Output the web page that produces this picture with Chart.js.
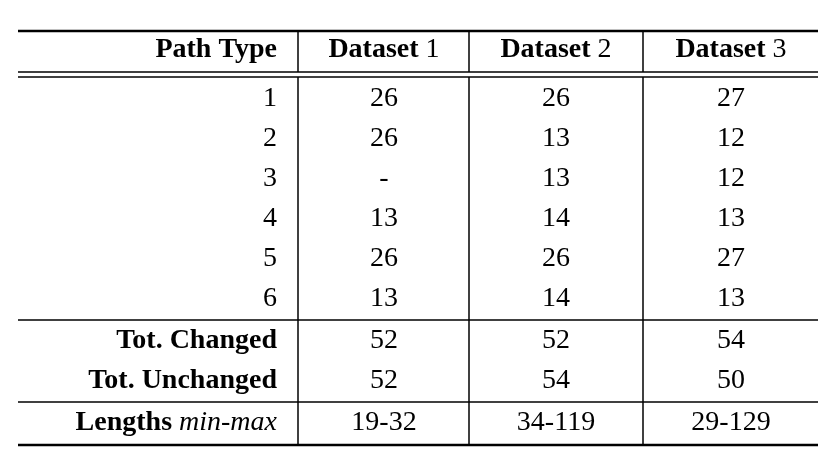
<!DOCTYPE html>
<html><head><meta charset="utf-8">
<script src="https://cdn.jsdelivr.net/npm/chart.js@4"></script>
<style>html,body{margin:0;padding:0;background:#fff}#w{width:838px;height:466px}</style>
</head><body><div id="w"><canvas id="c"></canvas></div>
<script>
const headers = [["Path Type"], ["Dataset ", "1"], ["Dataset ", "2"], ["Dataset ", "3"]];
const rowLabels = ["1","2","3","4","5","6","Tot. Changed","Tot. Unchanged","Lengths"];
const dataset1 = ["26","26","-","13","26","13","52","52","19-32"];
const dataset2 = ["26","13","13","14","26","14","52","54","34-119"];
const dataset3 = ["27","12","12","13","27","13","54","50","29-129"];

const rowY = [99,139,179,219,259,299,341,381,423];
const colX = [277,384,556,731];
const FONT = "'Liberation Serif', 'DejaVu Serif', serif";

const tablePlugin = {
  id: 'table',
  afterDraw(chart) {
    const ctx = chart.ctx, X = v => chart.scales.x.getPixelForValue(v), Y = v => chart.scales.y.getPixelForValue(v);
    ctx.save();
    ctx.strokeStyle = '#000';
    const hline = (y, w) => { ctx.lineWidth = w; ctx.beginPath(); ctx.moveTo(X(18), Y(y)); ctx.lineTo(X(818), Y(y)); ctx.stroke(); };
    hline(31, 2.5); hline(72, 1.5); hline(77, 1.5); hline(320, 1.5); hline(402, 1.5); hline(445, 2.5);
    ctx.lineWidth = 1.5;
    [298, 469, 643].forEach(x => {
      [[31,72],[77,445]].forEach(([a,b]) => { ctx.beginPath(); ctx.moveTo(X(x), Y(a)); ctx.lineTo(X(x), Y(b)); ctx.stroke(); });
    });
    ctx.fillStyle = '#000'; ctx.textBaseline = 'middle';
    const seg = (parts, x, y, align) => {
      let total = 0;
      parts.forEach(p => { ctx.font = p[1] + ' 28px ' + FONT; total += ctx.measureText(p[0]).width; });
      let sx = align === 'right' ? X(x) - total : X(x) - total / 2;
      ctx.textAlign = 'left';
      parts.forEach(p => { ctx.font = p[1] + ' 28px ' + FONT; ctx.fillText(p[0], sx, Y(y)); sx += ctx.measureText(p[0]).width; });
    };
    headers.forEach((h, i) => {
      const parts = h.length === 1 ? [[h[0], 'bold']] : [[h[0], 'bold'], [h[1], 'normal']];
      seg(parts, colX[i], 50, i === 0 ? 'right' : 'center');
    });
    rowLabels.forEach((r, i) => {
      let parts;
      if (i < 6) parts = [[r, 'normal']];
      else if (r === 'Lengths') parts = [[r + ' ', 'bold'], ['min-max', 'italic']];
      else parts = [[r, 'bold']];
      seg(parts, colX[0], rowY[i], 'right');
      [dataset1, dataset2, dataset3].forEach((d, j) => seg([[d[i], 'normal']], colX[j + 1], rowY[i], 'center'));
    });
    ctx.restore();
  }
};

new Chart(document.getElementById('c'), {
  type: 'scatter',
  data: { datasets: [{ data: [], pointRadius: 0 }] },
  options: {
    responsive: true, maintainAspectRatio: false, animation: false,
    layout: { padding: 0 },
    plugins: { legend: { display: false }, tooltip: { enabled: false } },
    scales: {
      x: { type: 'linear', min: 0, max: 838, display: false },
      y: { type: 'linear', min: 0, max: 466, reverse: true, display: false }
    }
  },
  plugins: [tablePlugin]
});
</script></body></html>
